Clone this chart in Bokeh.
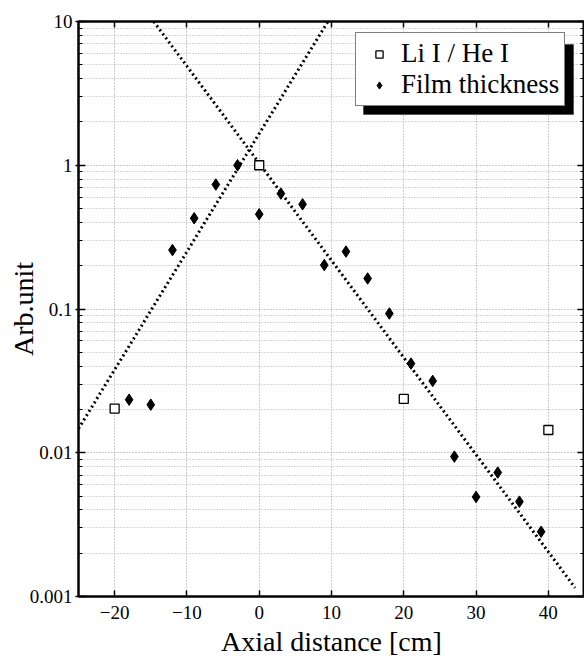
import math
from bokeh.plotting import figure
from bokeh.models import (FixedTicker, LinearAxis, LogAxis, Legend, LegendItem,
                          CustomJSTickFormatter, BoxAnnotation)
from bokeh.embed import file_html
from bokeh.resources import INLINE

# ---- data ----
li_he_x = [-20, 0, 20, 40]
li_he_y = [0.0203, 1.0, 0.0237, 0.0144]

film_x = [-18, -15, -12, -9, -6, -3, 0, 3, 6, 9, 12, 15, 18, 21, 24, 27, 30, 33, 36, 39]
film_y = [0.0234, 0.0216, 0.257, 0.428, 0.734, 1.0, 0.456, 0.635, 0.535, 0.202,
          0.251, 0.163, 0.093, 0.0417, 0.0316, 0.0094, 0.00493, 0.00728, 0.00457, 0.00282]

rise_x = [-25, 9.5]
rise_y = [0.0147, 10]
fall_x = [-14.6, 43.7]
fall_y = [10, 0.00115]

x_ticks = [-20, -10, 0, 10, 20, 30, 40]
y_ticks = [0.001, 0.01, 0.1, 1, 10]
y_minor = [m * t for t in y_ticks[:-1] for m in range(2, 10)]

FONT = "Liberation Serif"
X0, X1 = -25, 45
Y0, Y1 = 0.001, 10
FW, FH = 506, 575
LEFT, TOP = 78, 21

p = figure(frame_width=FW, frame_height=FH, y_axis_type="log",
           x_range=(X0, X1), y_range=(Y0, Y1),
           output_backend="svg", toolbar_location=None,
           min_border_left=LEFT, min_border_top=TOP, min_border_right=0,
           min_border_bottom=0)
p.background_fill_color = "white"
p.border_fill_color = "white"
p.outline_line_color = "black"
p.outline_line_width = 2

# grids
p.xgrid.ticker = FixedTicker(ticks=x_ticks)
p.xgrid.grid_line_color = "#9a9a9a"
p.xgrid.grid_line_dash = "1 2"
p.xgrid.grid_line_width = 1
p.ygrid.ticker = FixedTicker(ticks=y_ticks, minor_ticks=y_minor)
p.ygrid.grid_line_color = "#9a9a9a"
p.ygrid.grid_line_dash = "1 2"
p.ygrid.minor_grid_line_color = "#b0b0b0"
p.ygrid.minor_grid_line_dash = "1 2"

yfmt = CustomJSTickFormatter(code="return tick >= 1 ? tick.toFixed(0) : tick.toPrecision(1);")
blank = CustomJSTickFormatter(code="return '';")

# axes
xa = p.xaxis[0]
xa.ticker = FixedTicker(ticks=x_ticks)
xa.axis_label = "Axial distance [cm]"
ya = p.yaxis[0]
ya.ticker = FixedTicker(ticks=y_ticks, minor_ticks=y_minor)
ya.formatter = yfmt
ya.axis_label = "Arb.unit"
for ax in (xa, ya):
    ax.axis_line_width = 2
    ax.major_label_text_font = FONT
    ax.major_label_text_font_size = "19px"
    ax.major_label_text_color = "black"
    ax.axis_label_text_font = FONT
    ax.axis_label_text_font_size = "28px"
    ax.axis_label_text_font_style = "normal"
    ax.axis_label_text_color = "black"
    ax.major_tick_line_width = 1.5
    ax.minor_tick_line_width = 1.2
xa.major_tick_in = 6
xa.major_tick_out = 0
xa.minor_tick_in = 0
xa.minor_tick_out = 0
xa.major_label_standoff = 9
xa.axis_label_standoff = 4
ya.major_tick_in = 7
ya.major_tick_out = 3
ya.minor_tick_in = 4
ya.minor_tick_out = 0
ya.major_label_standoff = 3
ya.axis_label_standoff = -12

top = LinearAxis(ticker=FixedTicker(ticks=x_ticks), formatter=blank,
                 major_label_standoff=0, major_tick_in=6, major_tick_out=0,
                 minor_tick_in=0, minor_tick_out=0, axis_line_width=2,
                 major_tick_line_width=1.5)
p.add_layout(top, "above")
right = LogAxis(ticker=FixedTicker(ticks=y_ticks, minor_ticks=y_minor), formatter=blank,
                major_label_standoff=0,
                major_tick_in=7, major_tick_out=0, minor_tick_in=4, minor_tick_out=0,
                axis_line_width=2, major_tick_line_width=1.5, minor_tick_line_width=1.2)
p.add_layout(right, "right")

# fit lines
p.line(rise_x, rise_y, line_color="black", line_width=3, line_dash="2 3")
p.line(fall_x, fall_y, line_color="black", line_width=3, line_dash="2 3")

# data
r_sq = p.scatter(li_he_x, li_he_y, marker="square", size=9, fill_color="white",
                 line_color="black", line_width=1.3)
r_film = p.scatter(film_x, film_y, marker="diamond", size=11.5,
                   fill_color="black", line_color="black", line_width=1)

# legend shadow: legend box at frame px ~277..486 x 14..86, shadow offset 8 px
def fx_to_x(fx):
    return X0 + fx * (X1 - X0) / FW

def fy_to_y(fy):
    return 10 ** (math.log10(Y1) - fy * (math.log10(Y1) - math.log10(Y0)) / FH)

shadow = BoxAnnotation(left=fx_to_x(285), right=fx_to_x(495), top=fy_to_y(23),
                       bottom=fy_to_y(93), fill_color="black", fill_alpha=1,
                       line_color="black", level="overlay")
p.add_layout(shadow)

legend = Legend(items=[LegendItem(label="Li I / He I", renderers=[r_sq]),
                       LegendItem(label="Film thickness", renderers=[r_film])],
                location=(277, 490))
legend.label_text_font = FONT
legend.label_text_font_size = "27px"
legend.label_text_color = "black"
legend.label_height = 24
legend.glyph_height = 18
legend.glyph_width = 36
legend.label_standoff = 4
legend.padding = 5
legend.spacing = 0
legend.margin = 0
legend.border_line_color = "black"
legend.border_line_width = 1.5
legend.background_fill_color = "white"
legend.background_fill_alpha = 1
p.add_layout(legend)

open("out.html", "w").write(file_html(p, INLINE))
